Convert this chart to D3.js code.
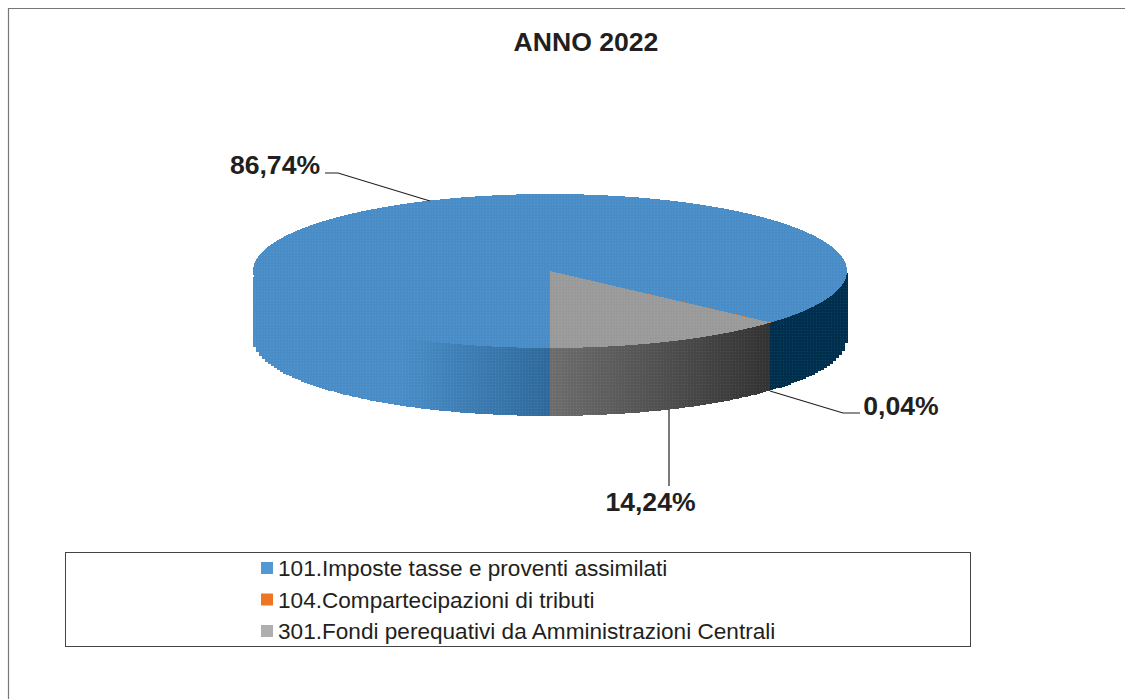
<!DOCTYPE html>
<html>
<head>
<meta charset="utf-8">
<script src="https://cdnjs.cloudflare.com/ajax/libs/d3/7.8.5/d3.min.js"></script>
<style>
  html, body { margin: 0; padding: 0; background: #fff; overflow: hidden; }
  text { font-family: "Liberation Sans", Arial, sans-serif; fill: #231f20; }
</style>
</head>
<body>
<svg id="chart" width="1125" height="699"></svg>
<script>
var title = "ANNO 2022";
var categories = [
  "101.Imposte tasse e proventi assimilati",
  "104.Compartecipazioni di tributi",
  "301.Fondi perequativi da Amministrazioni Centrali"
];
// printed labels
var percentages = [86.74, 0.04, 14.24];
// shares as drawn in the picture (the printed labels add up to more than 100)
var sliceShares = [86.66, 0.04, 13.3];
var colors = ["#4a8ec9", "#ed7d31", "#9b9b9b"];
var legendColors = ["#5299d3", "#ee7623", "#b0afaf"];

var svg = d3.select("#chart");
var cx = 550, cy = 271, rx = 297, ry = 77, depth = 68;

// faint dot screen of the scanned original
var defs = svg.append("defs");
var screen = defs.append("pattern")
  .attr("id", "screen")
  .attr("patternUnits", "userSpaceOnUse")
  .attr("width", 3)
  .attr("height", 3);
screen.append("rect").attr("width", 1).attr("height", 1).attr("fill", "#fff").attr("opacity", 0.07);
screen.append("rect").attr("x", 1.5).attr("y", 1.5).attr("width", 1).attr("height", 1).attr("fill", "#000").attr("opacity", 0.05);

// page frame, open on the right and bottom
svg.append("path")
  .attr("d", "M8.5,699V8.5H1125")
  .attr("fill", "none")
  .attr("stroke", "#777")
  .attr("stroke-width", 1.2);

svg.append("text")
  .attr("x", 586)
  .attr("y", 51)
  .attr("text-anchor", "middle")
  .attr("font-size", 26.6)
  .attr("font-weight", "bold")
  .text(title);

var pie = d3.pie().sort(null).startAngle(Math.PI).endAngle(3 * Math.PI);
var arcs = pie(sliceShares);

function px(a) { return cx + rx * Math.sin(a); }
function py(a) { return cy - ry * Math.cos(a); }

// side wall, drawn as narrow vertical strips like the original raster
var wallStops = [
  { from: 253, to: 550, color: d3.scaleLinear().domain([253, 400, 550]).range(["#4a8ec9", "#4a8ec9", "#2f6a9c"]) },
  { from: 550, to: 770, color: d3.scaleLinear().domain([550, 770]).range(["#6e6e6e", "#333333"]) },
  { from: 770, to: 848, color: d3.scaleLinear().domain([770, 848]).range(["#00304f", "#00304f"]) }
];
var strip = 3;
var wall = svg.append("g").attr("shape-rendering", "crispEdges");
wallStops.forEach(function (w) {
  var xs = d3.range(w.from, w.to, strip);
  wall.append("g")
    .selectAll("rect")
    .data(xs)
    .join("rect")
    .attr("x", function (x) { return x; })
    .attr("width", function (x) { return Math.min(strip, w.to - x); })
    .attr("y", function (x) {
      var t = (x + strip / 2 - cx) / rx;
      return cy + ry * Math.sqrt(Math.max(0, 1 - t * t)) - 2;
    })
    .attr("height", depth + 2)
    .attr("fill", function (x) { return w.color(x); });
});

// flat top of the pie
var topLine = d3.line();
function slicePath(d) {
  var n = Math.max(2, Math.ceil((d.endAngle - d.startAngle) * 60));
  var pts = d3.range(n + 1).map(function (i) {
    var a = d.startAngle + (d.endAngle - d.startAngle) * i / n;
    return [px(a), py(a)];
  });
  return topLine([[cx, cy]].concat(pts)) + "Z";
}
svg.append("g")
  .attr("shape-rendering", "crispEdges")
  .selectAll("path")
  .data(arcs)
  .join("path")
  .attr("d", slicePath)
  .attr("fill", function (d, i) { return colors[i]; });

// screen over the whole solid
svg.append("path")
  .attr("d", function () {
    var n = 240;
    var top = d3.range(n + 1).map(function (i) {
      var a = -Math.PI / 2 + Math.PI * i / n;
      return [px(a), py(a)];
    });
    var bottom = d3.range(n + 1).map(function (i) {
      var a = Math.PI / 2 + Math.PI * i / n;
      return [px(a), py(a) + depth];
    });
    return topLine(top.concat(bottom)) + "Z";
  })
  .attr("fill", "url(#screen)");

// leader lines and data labels
var labelFormat = d3.format(".2f");
function pct(v) { return labelFormat(v).replace(".", ",") + "%"; }
var leaders = [
  [[325, 173], [338, 173], [430, 201]],
  [[770, 391], [843, 413], [860, 413]],
  [[669, 410], [669, 486]]
];
var labelPos = [[275, 174], [901, 415], [650.5, 511]];
svg.append("g")
  .selectAll("path")
  .data(leaders)
  .join("path")
  .attr("d", d3.line())
  .attr("fill", "none")
  .attr("stroke", "#231f20")
  .attr("stroke-width", 1.2);

svg.append("g")
  .selectAll("text")
  .data(percentages)
  .join("text")
  .attr("x", function (d, i) { return labelPos[i][0]; })
  .attr("y", function (d, i) { return labelPos[i][1]; })
  .attr("text-anchor", "middle")
  .attr("font-size", 26.6)
  .attr("font-weight", "bold")
  .text(pct);

// legend
svg.append("rect")
  .attr("x", 65.5)
  .attr("y", 552.5)
  .attr("width", 905)
  .attr("height", 94)
  .attr("fill", "none")
  .attr("stroke", "#444")
  .attr("stroke-width", 1);

var legendY = d3.scalePoint().domain(categories).range([568, 631]);
var legend = svg.append("g")
  .selectAll("g")
  .data(categories)
  .join("g")
  .attr("transform", function (d) { return "translate(0," + legendY(d) + ")"; });
legend.append("rect")
  .attr("x", 261)
  .attr("y", -6)
  .attr("width", 12)
  .attr("height", 12)
  .attr("fill", function (d, i) { return legendColors[i]; });
legend.append("text")
  .attr("x", 278)
  .attr("y", 8)
  .attr("font-size", 22.6)
  .text(function (d) { return d; });
</script>
</body>
</html>
